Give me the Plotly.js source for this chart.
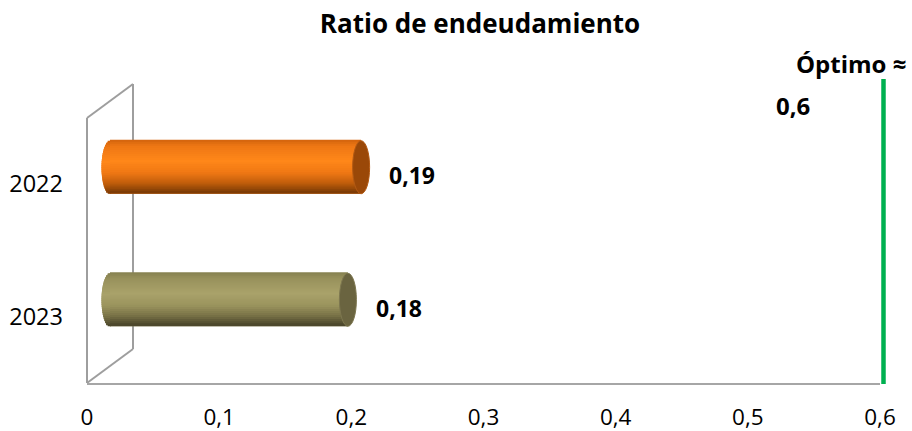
<!DOCTYPE html>
<html>
<head>
<meta charset="utf-8">
<script src="https://cdn.plot.ly/plotly-3.0.1.min.js"></script>
<style>
  html, body { margin: 0; padding: 0; background: #fff; }
  #chart { width: 912px; height: 431px; }
</style>
</head>
<body>
<div id="chart"></div>
<script>
// Categories listed bottom to top, with their debt ratios
const years = ['2023', '2022'];
const ratios = [0.18, 0.19];
// Target ratio marked by the green reference line
const optimo = 0.6;
const optimoTitle = 'Óptimo ≈';
// Horizontal axis ticks
const xTickVals = [0, 0.1, 0.2, 0.3, 0.4, 0.5, 0.6];
const xTickText = ['0', '0,1', '0,2', '0,3', '0,4', '0,5', '0,6'];

// ---- geometry & style ----
const W = 912, H = 431;
const M = { l: 87, r: 32, t: 118, b: 48 };
const plotW = W - M.l - M.r;
const plotH = H - M.t - M.b;
const X_MAX = 0.6;
const DEPTH_X = 46, DEPTH_Y = 34;      // oblique depth of the 3D box, px
const xPerPx = X_MAX / plotW;
const yPerPx = 2 / plotH;
const dxMid = (DEPTH_X / 2) * xPerPx;   // bars sit half way into the box
const dyMid = (DEPTH_Y / 2) * yPerPx;
const BAR_W = 0.4;                      // cylinder thickness, category units
const CAP_R = 8.5;                      // half width of the elliptical ends, px
const STRIPES = 26;
const FONT = 'Open Sans, Noto Sans, sans-serif';
const WALL = '#9e9e9e';

// Shading profile across each cylinder (top -> bottom), per category
const profiles = [
  [[0, '#858050'], [0.12, '#98915c'], [0.4, '#a9a26a'], [0.62, '#9b945e'], [0.82, '#787246'], [1, '#48432a']],
  [[0, '#d2630d'], [0.12, '#ee7714'], [0.4, '#ff8719'], [0.62, '#f07814'], [0.82, '#c05d0b'], [1, '#773805']]
];
const capColors = ['#6a6440', '#9a4808'];
const capLines = ['#7d7750', '#b35a14'];

function hexRgb(h) {
  const n = parseInt(h.slice(1), 16);
  return [(n >> 16) & 255, (n >> 8) & 255, n & 255];
}
function sample(profile, t) {
  for (let i = 1; i < profile.length; i++) {
    if (t <= profile[i][0]) {
      const [t0, c0] = profile[i - 1], [t1, c1] = profile[i];
      const f = (t - t0) / (t1 - t0);
      const a = hexRgb(c0), b = hexRgb(c1);
      const c = a.map((v, k) => Math.round(v + (b[k] - v) * f));
      return 'rgb(' + c.join(',') + ')';
    }
  }
  return profile[profile.length - 1][1];
}
const fmt = v => String(v).replace('.', ',');

const traces = [];
// keeps the front (axis) subplot alive
traces.push({ type: 'scatter', x: [], y: [], xaxis: 'x', yaxis: 'y', hoverinfo: 'skip', showlegend: false });

// Solid cylinder body underneath the shading
traces.push({
  type: 'bar', orientation: 'h', name: 'Ratio de endeudamiento',
  x: ratios, y: years, xaxis: 'x2', yaxis: 'y2',
  width: BAR_W,
  marker: { color: years.map((_, i) => sample(profiles[i], 0.55)), line: { width: 0 } },
  hoverinfo: 'skip', showlegend: false
});

// Shading: one bar trace per horizontal stripe
const stripeH = BAR_W / STRIPES;
for (let k = 0; k < STRIPES; k++) {
  const t = (k + 0.5) / STRIPES;
  traces.push({
    type: 'bar', orientation: 'h',
    x: ratios, y: years,
    xaxis: 'x2', yaxis: 'y2',
    width: stripeH * 1.5,
    offset: BAR_W / 2 - (k + 1) * stripeH,
    marker: { color: years.map((_, i) => sample(profiles[i], t)), line: { width: 0 } },
    hoverinfo: 'skip', showlegend: false
  });
}

const shapes = [];
// Left wall (back and front edges) and floor corner, in paper units
const px2fx = p => p / plotW, px2fy = p => p / plotH;
const wallLine = { color: WALL, width: 2 };
shapes.push(
  { type: 'line', xref: 'paper', yref: 'paper', x0: 0, y0: 0, x1: 0, y1: 1, line: wallLine, layer: 'below' },
  { type: 'line', xref: 'paper', yref: 'paper', x0: 0, y0: 1, x1: px2fx(DEPTH_X), y1: 1 + px2fy(DEPTH_Y), line: wallLine, layer: 'below' },
  { type: 'line', xref: 'paper', yref: 'paper', x0: px2fx(DEPTH_X), y0: px2fy(DEPTH_Y), x1: px2fx(DEPTH_X), y1: 1 + px2fy(DEPTH_Y), line: wallLine, layer: 'below' },
  { type: 'line', xref: 'paper', yref: 'paper', x0: 0, y0: 0, x1: px2fx(DEPTH_X), y1: px2fy(DEPTH_Y), line: wallLine, layer: 'below' }
);

// Rounded left ends (base ellipse, then stepped shading) and end caps on the right
years.forEach((yr, i) => {
  shapes.push({
    type: 'circle', xref: 'x2', yref: 'y2', xsizemode: 'pixel', xanchor: 0,
    x0: -CAP_R, x1: CAP_R, y0: i - BAR_W / 2, y1: i + BAR_W / 2,
    fillcolor: sample(profiles[i], 0.55), line: { width: 0 }, layer: 'below'
  });
  for (let k = 0; k < STRIPES; k++) {
    const yTop = i + BAR_W / 2 - k * stripeH;
    const yBot = yTop - stripeH * 1.5;
    const tc = (k + 0.5) / STRIPES;
    const u = 2 * tc - 1;
    const reach = CAP_R * Math.sqrt(Math.max(0, 1 - u * u));
    shapes.push({
      type: 'rect', xref: 'x2', yref: 'y2', xsizemode: 'pixel', xanchor: 0,
      x0: -reach, x1: 1, y0: Math.max(yBot, i - BAR_W / 2), y1: yTop,
      fillcolor: sample(profiles[i], tc), line: { width: 0 }, layer: 'below'
    });
  }
  shapes.push({
    type: 'circle', xref: 'x2', yref: 'y2', xsizemode: 'pixel', xanchor: ratios[i],
    x0: -CAP_R, x1: CAP_R, y0: i - BAR_W / 2, y1: i + BAR_W / 2,
    fillcolor: capColors[i], line: { color: capLines[i], width: 1 }, layer: 'above'
  });
});

// Target line at the optimum ratio (paper units so it can rise above the plot)
shapes.push({
  type: 'line', xref: 'paper', yref: 'paper',
  x0: optimo / X_MAX + px2fx(3.5), x1: optimo / X_MAX + px2fx(3.5),
  y0: -px2fy(1), y1: 1 + px2fy(M.t - 79),
  line: { color: '#00b050', width: 4.5 }, layer: 'above'
});

const labelFont = { family: FONT, size: 23, weight: 'bold', color: '#000' };
const annotations = ratios.map((v, i) => ({
  xref: 'x2', yref: 'y2', x: v, y: i,
  text: fmt(v), showarrow: false,
  xanchor: 'left', yanchor: 'middle', xshift: 26, yshift: -8,
  font: labelFont
}));
annotations.push(
  { xref: 'paper', yref: 'paper', x: px2fx(851 - M.l), y: 1 + px2fy(M.t - 63.5), text: optimoTitle,
    showarrow: false, xanchor: 'center', yanchor: 'middle', font: Object.assign({}, labelFont, { size: 24 }) },
  { xref: 'paper', yref: 'paper', x: px2fx(793 - M.l), y: 1 + px2fy(M.t - 105), text: fmt(optimo),
    showarrow: false, xanchor: 'center', yanchor: 'middle', font: Object.assign({}, labelFont, { size: 24 }) }
);

const layout = {
  width: W, height: H,
  margin: M,
  paper_bgcolor: '#fff', plot_bgcolor: 'rgba(0,0,0,0)',
  separators: ', ',
  showlegend: false, hovermode: false,
  barmode: 'overlay',
  title: {
    text: 'Ratio de endeudamiento',
    font: { family: FONT, size: 26, weight: 'bold', color: '#000' },
    xref: 'container', x: 480 / W, xanchor: 'center',
    yref: 'container', y: 1 - 24 / H, yanchor: 'middle'
  },
  xaxis: {
    range: [0, X_MAX], tickvals: xTickVals, ticktext: xTickText,
    showgrid: false, zeroline: false,
    showline: true, linecolor: '#a6a6a6', linewidth: 2,
    ticks: '', ticklabelstandoff: 13,
    tickfont: { family: FONT, size: 22.5, color: '#000' },
    fixedrange: true
  },
  yaxis: {
    range: [-0.5, 1.5], tickvals: years.map((_, i) => i), ticktext: years,
    showgrid: false, zeroline: false, showline: false,
    ticks: '', ticklabelstandoff: 23,
    tickfont: { family: FONT, size: 23.5, color: '#000' },
    fixedrange: true
  },
  xaxis2: {
    overlaying: 'x', range: [-dxMid, X_MAX - dxMid], visible: false, fixedrange: true
  },
  yaxis2: {
    overlaying: 'y', type: 'category', categoryorder: 'array', categoryarray: years,
    range: [-0.5 - dyMid, 1.5 - dyMid], visible: false, fixedrange: true
  },
  shapes: shapes,
  annotations: annotations
};

Plotly.newPlot('chart', traces, layout, { staticPlot: true, displayModeBar: false });
</script>
</body>
</html>
